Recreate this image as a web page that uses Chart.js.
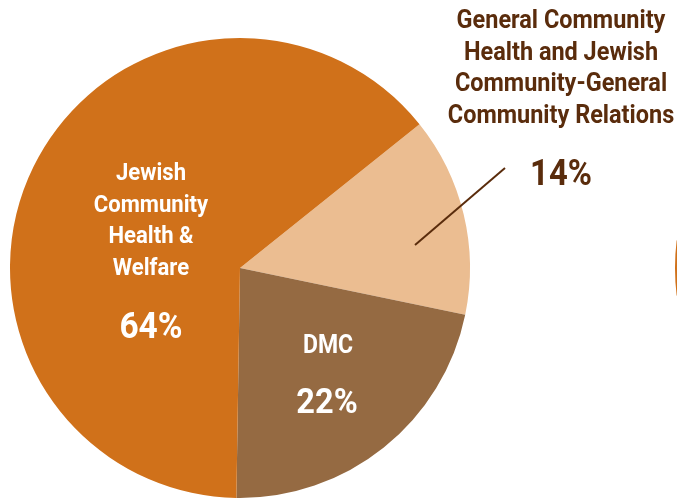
<!DOCTYPE html>
<html>
<head>
<meta charset="utf-8">
<script src="https://cdn.jsdelivr.net/npm/chart.js@4.4.1/dist/chart.umd.min.js"></script>
<style>
  html, body { margin: 0; padding: 0; background: #fff; }
  #wrap { width: 677px; height: 499px; position: relative; }
</style>
</head>
<body>
<div id="wrap"><canvas id="pieChart"></canvas></div>
<script>
// Funding split
const categories = ['General Community Health and Jewish Community-General Community Relations', 'DMC', 'Jewish Community Health & Welfare'];
const shares = [14, 22, 64];
const sliceColors = ['#EBBD91', '#956A42', '#D0711A'];

// label lines as drawn on the chart
const labelLines = [
    ['General Community', 'Health and Jewish', 'Community-General', 'Community Relations'],
    ['DMC'],
    ['Jewish', 'Community', 'Health &', 'Welfare']
];

const FONT = '"Roboto", "Liberation Sans", sans-serif';

// condensed look: squeeze the text horizontally
function squeezedText(ctx, text, x, y, size, sx) {
    ctx.save();
    ctx.font = 'bold ' + size + 'px ' + FONT;
    ctx.translate(x, y);
    ctx.scale(sx, 1);
    ctx.fillText(text, 0, 0);
    ctx.restore();
}

const labelPlugin = {
    id: 'sliceLabels',
    afterDraw(chart) {
        const ctx = chart.ctx;
        const arc = chart.getDatasetMeta(0).data[0];
        const cx = arc.x, cy = arc.y, r = arc.outerRadius;
        ctx.save();
        ctx.textAlign = 'center';
        ctx.textBaseline = 'alphabetic';

        // Jewish Community Health & Welfare (inside, white)
        ctx.fillStyle = '#ffffff';
        const jx = cx - 89;
        labelLines[2].forEach((t, i) => squeezedText(ctx, t, jx, cy - 88 + i * 31.7, 24, 0.92));
        squeezedText(ctx, shares[2] + '%', jx, cy + 70, 36, 0.93);

        // DMC (inside, white)
        squeezedText(ctx, labelLines[1][0], cx + 88, cy + 85, 25, 0.92);
        squeezedText(ctx, shares[1] + '%', cx + 87, cy + 145, 35, 0.93);

        // outside label, dark brown
        ctx.fillStyle = '#5A2C0C';
        const ox = cx + 321;
        labelLines[0].forEach((t, i) => squeezedText(ctx, t, ox, 28 + i * 31.7, 25.5, 0.92));
        squeezedText(ctx, shares[0] + '%', ox, cy - 83, 36, 0.91);

        // leader line
        ctx.strokeStyle = '#5A2C0C';
        ctx.lineWidth = 2;
        ctx.beginPath();
        ctx.moveTo(cx + 175, cy - 23);
        ctx.lineTo(cx + 265, cy - 100);
        ctx.stroke();

        // edge of the neighbouring pie, cut off at the right
        ctx.strokeStyle = '#D0711A';
        ctx.lineWidth = 2;
        ctx.beginPath();
        ctx.arc(cx + 436 + r, cy, r, Math.PI - 0.12, Math.PI + 0.12);
        ctx.stroke();
        ctx.restore();
    }
};

new Chart(document.getElementById('pieChart'), {
    type: 'pie',
    data: {
        labels: categories,
        datasets: [{
            data: shares,
            backgroundColor: sliceColors,
            borderWidth: 0
        }]
    },
    options: {
        responsive: true,
        maintainAspectRatio: false,
        animation: false,
        rotation: 51.3,
        layout: { padding: { top: 38, bottom: 1, left: 10, right: 207 } },
        plugins: {
            legend: { display: false },
            tooltip: { enabled: false }
        }
    },
    plugins: [labelPlugin]
});
</script>
</body>
</html>
